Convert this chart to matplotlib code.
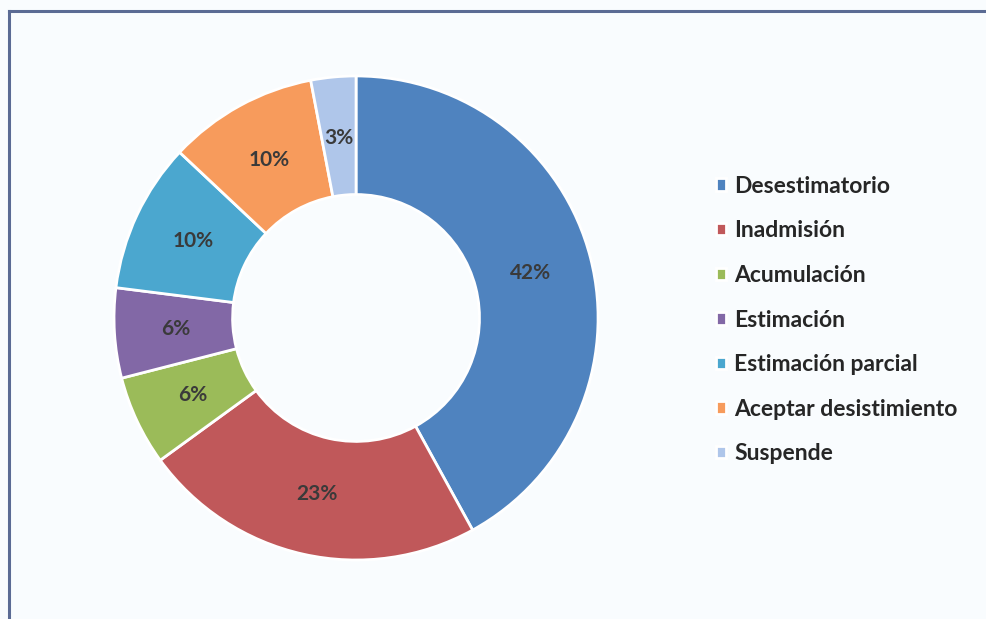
import matplotlib
matplotlib.use("Agg")
import matplotlib.pyplot as plt
from matplotlib.lines import Line2D

categories = ["Desestimatorio", "Inadmisión", "Acumulación", "Estimación",
              "Estimación parcial", "Aceptar desistimiento", "Suspende"]
values = [42, 23, 6, 6, 10, 10, 3]
colors = ["#4F83BF", "#C0585A", "#9BBB59", "#8268A6",
          "#4BA7CF", "#F79B5C", "#AFC6EA"]

BG = "#F9FCFE"

fig = plt.figure(figsize=(9.86, 6.19), dpi=100, facecolor=BG)

# donut centred around (356, 318) px, outer radius ~242 px
ax = fig.add_axes([0.1156, 0.0953, 0.491, 0.782])
ax.set_facecolor(BG)
wedges, texts, autotexts = ax.pie(
    values, colors=colors, startangle=90, counterclock=False,
    radius=1.0, autopct="%d%%", pctdistance=0.745,
    wedgeprops=dict(width=0.49, edgecolor="white", linewidth=2),
    textprops=dict(color="#3A3A3A", fontsize=15, fontweight="bold",
                   family="Lato"))
ax.set_xlim(-1.0, 1.0)
ax.set_ylim(-1.0, 1.0)
ax.set_aspect("equal")
ax.axis("off")

leg = fig.legend(wedges, categories, loc="center left",
                 bbox_to_anchor=(0.726, 0.483), frameon=False,
                 borderpad=0, borderaxespad=0,
                 handlelength=0.45, handleheight=0.45, handletextpad=0.35,
                 labelspacing=1.03,
                 prop=dict(family="Lato", weight="bold", size=16.5))
for t in leg.get_texts():
    t.set_color("#262626")

# scanned frame: only top and left edges visible
x0 = 9 / 986
y0 = 1 - 11 / 619
fig.add_artist(Line2D([x0, x0], [0, y0], color="#5B6B94", lw=2.2,
                      transform=fig.transFigure))
fig.add_artist(Line2D([x0, 1], [y0, y0], color="#5B6B94", lw=2.2,
                      transform=fig.transFigure))

fig.savefig("out.png", dpi=100, facecolor=BG)
